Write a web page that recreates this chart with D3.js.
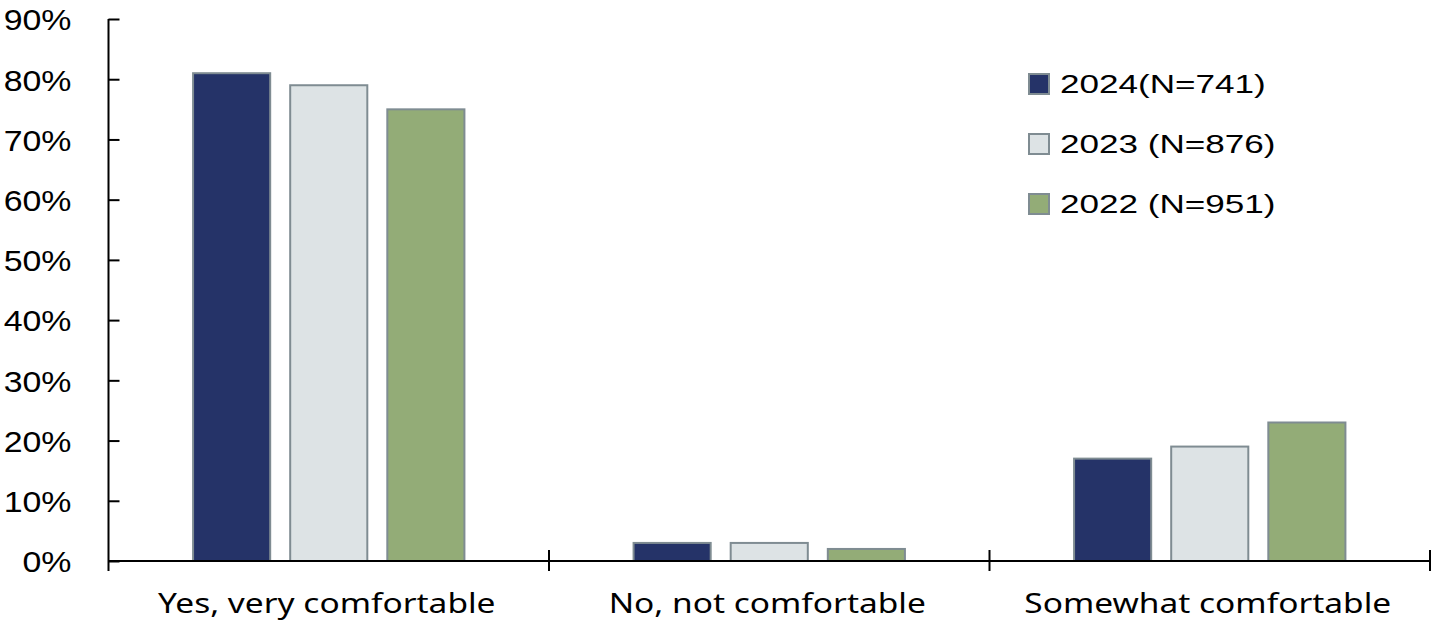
<!DOCTYPE html>
<html><head><meta charset="utf-8">
<script src="https://cdn.jsdelivr.net/npm/d3@7"></script>
<style>body{margin:0;background:#fff}svg{display:block}</style>
</head><body><svg id="c" width="1434" height="628"></svg>
<script>
const categories = ["Yes, very comfortable", "No, not comfortable", "Somewhat comfortable"];
const seriesNames = ["2024(N=741)", "2023 (N=876)", "2022 (N=951)"];
const v2024 = [81, 3, 17];
const v2023 = [79, 3, 19];
const v2022 = [75, 2, 23];
const yTicks = [0, 10, 20, 30, 40, 50, 60, 70, 80, 90];
const colors = ["#253368", "#DDE3E5", "#93AC77"];

const series = [v2024, v2023, v2022];
const svg = d3.select("#c");
const L = 108.5, R = 1430, T = 19, B = 561;

const x = d3.scaleBand().domain(categories).range([L, R]).padding(0);
const cw = x.bandwidth();
const xi = d3.scaleBand().domain(d3.range(3)).range([cw*0.192, cw*0.808]).paddingInner(0.206).paddingOuter(0);
const y = d3.scaleLinear().domain([0, 90]).range([B, T]);

// bars
const g = svg.append("g");
categories.forEach((c, ci) => {
  series.forEach((s, si) => {
    g.append("rect")
      .attr("x", x(c) + xi(si))
      .attr("y", y(s[ci]))
      .attr("width", xi.bandwidth())
      .attr("height", B - y(s[ci]))
      .attr("fill", colors[si])
      .attr("stroke", "#7F8C92")
      .attr("stroke-width", 2);
  });
});

// y axis
const ya = svg.append("g").attr("transform", `translate(${L},0)`)
  .call(d3.axisLeft(y).tickValues(yTicks).tickFormat(d => d + "%").tickSizeInner(-11).tickSizeOuter(0));
ya.select(".domain").remove();
ya.selectAll(".tick line").attr("stroke", "#000").attr("stroke-width", 2);
ya.selectAll(".tick text")
  .attr("x", null).attr("dy", "0.36em")
  .attr("text-anchor", "end")
  .attr("transform", "translate(-37,0) scale(1.13,1)")
  .attr("font-family", "'Liberation Sans', Arial, sans-serif")
  .attr("font-size", 30).attr("fill", "#000");
svg.append("line").attr("x1", L).attr("x2", L).attr("y1", T).attr("y2", B + 10)
  .attr("stroke", "#000").attr("stroke-width", 2);

// x axis
svg.append("line").attr("x1", L).attr("x2", R).attr("y1", B).attr("y2", B)
  .attr("stroke", "#000").attr("stroke-width", 2);
categories.forEach(c => {
  const xe = x(c) + cw;
  svg.append("line").attr("x1", xe).attr("x2", xe).attr("y1", B - 11).attr("y2", B + 10)
    .attr("stroke", "#000").attr("stroke-width", 2);
  svg.append("text").attr("transform", `translate(${x(c) + cw/2 - 2},613) scale(1.24,1)`)
    .attr("text-anchor", "middle")
    .attr("font-family", "'Noto Sans', sans-serif")
    .attr("font-size", 27).attr("fill", "#000").text(c);
});

// legend
seriesNames.forEach((n, i) => {
  const cy = 84 + i*60;
  svg.append("rect").attr("x", 1029).attr("y", cy - 10).attr("width", 20).attr("height", 20)
    .attr("fill", colors[i]).attr("stroke", "#7F8C92").attr("stroke-width", 2);
  svg.append("text").attr("transform", `translate(1060,${cy}) scale(1.35,1)`)
    .attr("dy", "0.36em")
    .attr("font-family", "'Liberation Sans', Arial, sans-serif")
    .attr("font-size", 26).attr("fill", "#000").text(n);
});
</script></body></html>
